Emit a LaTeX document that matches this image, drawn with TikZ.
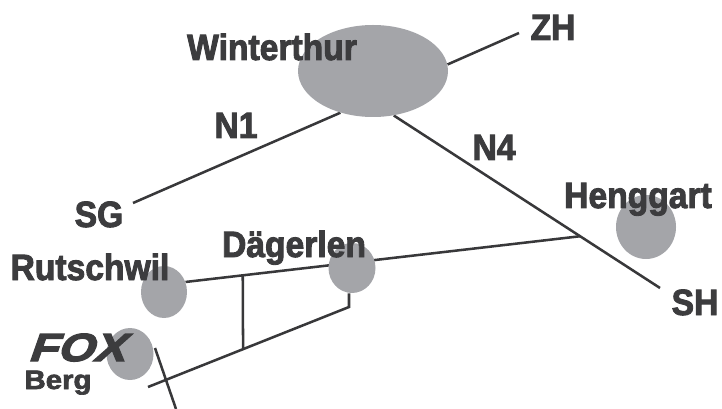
\documentclass[tikz,border=0pt]{standalone}
\usepackage{fontspec}
\usepackage{tikz}
\usetikzlibrary{shapes.geometric,backgrounds}
\newfontfamily\lblfamily[FakeStretch=0.92,FakeBold=2.5]{Liberation Sans}
\newfontfamily\bergfamily[FakeStretch=1.1,FakeBold=2.5]{Liberation Sans}
\newfontfamily\foxfamily[FakeStretch=1.2,FakeSlant=0.35,FakeBold=3.5]{Liberation Sans}
\definecolor{townfill}{HTML}{A4A5A9}
\definecolor{lblcol}{HTML}{3C3C3E}
\definecolor{roadcol}{HTML}{38383A}
\tikzset{
  town/.style={ellipse,fill=townfill,inner sep=0pt},
  lbl/.style={anchor=base,text=lblcol,font=\lblfamily\bfseries\fontsize{26}{30}\selectfont},
  road/.style={draw=roadcol,line width=1.8pt}
}
\begin{document}
\begin{tikzpicture}
\useasboundingbox (0,0) rectangle (18.05,-10.225);
\node[town,minimum width=3.75cm,minimum height=2.3cm] (wint) at (9.325,-1.775) {};
\node[town,minimum width=1.5cm,minimum height=1.6cm] (hen) at (16.15,-5.675) {};
\node[town,minimum width=1.15cm,minimum height=1.3cm] (rut) at (4.1,-7.3) {};
\node[town,minimum width=1.175cm,minimum height=1.25cm] (dag) at (8.8,-6.7) {};
\node[town,minimum width=1.175cm,minimum height=1.3cm] (berg) at (3.25,-8.85) {};
\node[lbl] (wintlbl) at (6.8,-1.5) {Winterthur};
\node[lbl] (zh) at (13.825,-1.0) {ZH};
\node[lbl] (n1) at (5.9,-3.45) {N1};
\node[lbl] (n4) at (12.35,-4.0) {N4};
\node[lbl] (sg) at (2.475,-5.675) {SG};
\node[lbl] (henlbl) at (15.95,-5.2) {Henggart};
\node[lbl] (sh) at (17.375,-7.875) {SH};
\node[lbl] (rutlbl) at (2.25,-7.0) {Rutschwil};
\node[lbl] (daglbl) at (7.35,-6.425) {Dägerlen};
\node[lbl,inner sep=0pt,font=\foxfamily\bfseries\fontsize{27.8}{30}\selectfont] (fox) at (1.9,-9.025) {FOX};
\node[lbl,inner sep=0pt,font=\bergfamily\bfseries\fontsize{19}{22}\selectfont] (berglbl) at (1.45,-9.725) {Berg};
\coordinate (zhend) at (12.975,-0.825);
\coordinate (sgend) at (3.325,-5.075);
\coordinate (shend) at (16.5,-7.2);
\coordinate (lowend) at (3.7,-9.675);
\coordinate (dagknee) at (8.725,-7.675);
\coordinate (crosstop) at (3.875,-8.7);
\coordinate (crossbot) at (4.4,-10.225);
\begin{pgfonlayer}{background}
\draw[road] (wint.5) -- (zhend);
\draw[road] (wint.232) -- (sgend);
\draw[road] (wint.295) -- coordinate[pos=0.7] (jct) (shend);
\draw[road] (rut.25) -- coordinate[pos=0.145] (up1) (jct);
\draw[road] (lowend) -- coordinate[pos=0.473] (low1) (dagknee) -- (dagknee |- dag.south);
\draw[road] (up1) -- (low1);
\draw[road] (crosstop) -- (crossbot);
\end{pgfonlayer}
\end{tikzpicture}
\end{document}
